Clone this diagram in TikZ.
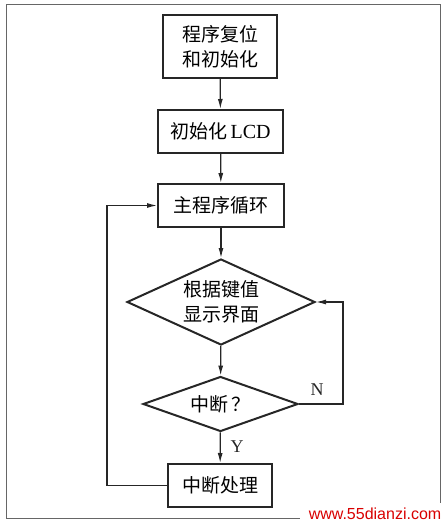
\documentclass[tikz,border=0pt]{standalone}
\usepackage{fontspec}
\setmainfont{Liberation Serif}
\newfontfamily\cjk{Noto Sans CJK SC}
\usetikzlibrary{shapes.geometric,arrows.meta}
\begin{document}
\begin{tikzpicture}[x=1pt,y=-1pt,
  procbox/.style={draw=black!85,line width=2pt,rectangle,inner sep=0pt,font=\cjk\fontsize{19}{25}\selectfont,align=center},
  decbox/.style={draw=black!85,line width=2pt,diamond,inner sep=0pt,font=\cjk\fontsize{19}{25}\selectfont,align=center},
  conn/.style={draw=black!85,line width=1.2pt,-{Latex[length=10pt,width=5pt]}},
  lbl/.style={font=\fontsize{18}{20}\selectfont,text=black!85}]
\useasboundingbox (0,0) rectangle (445,525);
\draw[black!60,line width=0.8pt] (6,4) rectangle (440,518);
\node[procbox,minimum width=114pt,minimum height=63pt] (reset) at (220,46.5) {程序复位\\和初始化};
\node[procbox,minimum width=125pt,minimum height=43pt] (lcd) at (220.5,131.5) {初始化\,{\rmfamily\fontsize{20}{22}\selectfont LCD}};
\node[procbox,minimum width=126pt,minimum height=43pt] (main) at (221,205.5) {主程序循环};
\node[decbox,shape aspect=2.2,minimum width=188pt,minimum height=86pt] (disp) at (221,302) {根据键值\\显示界面};
\node[decbox,shape aspect=2.8,minimum width=155pt,minimum height=55pt] (intq) at (220.5,404) {中断\,？};
\node[procbox,minimum width=104pt,minimum height=43pt] (isr) at (220,485.5) {中断处理};
\coordinate (nr) at (343,404);
\coordinate (nt) at (343,302);
\coordinate (ll) at (107,485.5);
\coordinate (lt) at (107,205.5);
\draw[conn] (reset) -- (lcd);
\draw[conn] (lcd) -- (main);
\draw[conn] (main) -- (disp);
\draw[conn] (disp) -- (intq);
\draw[conn] (intq) -- (isr);
\draw[conn] (intq.east) -- (nr) -- (nt) -- (disp.east);
\draw[conn] (isr.west) -- (ll) -- (lt) -- (main.west);
\node[lbl] (nlab) at (317,390) {N};
\node[lbl] (ylab) at (237,447) {Y};
\fill[white] (300,503) rectangle (445,525);
\node[font=\fontspec{Liberation Sans}\fontsize{16}{18}\selectfont,text=red!85!black] (wm) at (375,514) {www.55dianzi.com};
\end{tikzpicture}
\end{document}
